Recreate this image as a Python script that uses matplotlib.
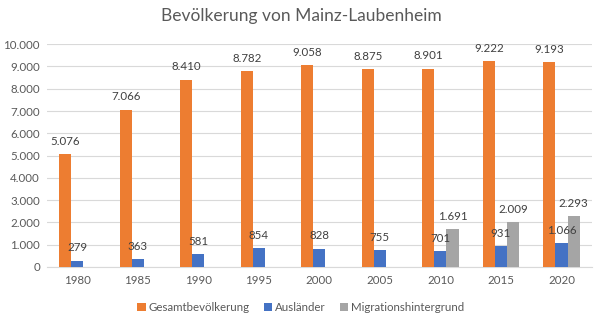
import numpy as np
import matplotlib.pyplot as plt

years = ["1980", "1985", "1990", "1995", "2000", "2005", "2010", "2015", "2020"]
gesamt = [5076, 7066, 8410, 8782, 9058, 8875, 8901, 9222, 9193]
auslaender = [279, 363, 581, 854, 828, 755, 701, 931, 1066]
migration = [np.nan, np.nan, np.nan, np.nan, np.nan, np.nan, 1691, 2009, 2293]

plt.rcParams['font.family'] = ['Lato', 'DejaVu Sans']


def fmt(v):
    return f"{int(v):,}".replace(",", ".")


fig = plt.figure(figsize=(6.02, 3.27), dpi=100)
ax = fig.add_axes([0.078, 0.1835, 0.905, 0.6815])

x = np.arange(len(years))
w = 0.2
series = [
    (gesamt, "#ED7D31", "Gesamtbevölkerung"),
    (auslaender, "#4472C4", "Ausländer"),
    (migration, "#A5A5A5", "Migrationshintergrund"),
]
for i, (vals, col, name) in enumerate(series):
    pos = x + (i - 1) * w
    ax.bar(pos, vals, width=w, color=col, label=name, zorder=3)
    for p, v in zip(pos, vals):
        if not np.isnan(v):
            ax.text(p, v + 330, fmt(v), ha="center", va="bottom",
                    fontsize=8.3, color="#404040", zorder=4)

ax.set_xlim(-0.5, len(years) - 0.5)
ax.set_ylim(0, 10000)
ax.set_yticks(np.arange(0, 10001, 1000))
ax.set_yticklabels([fmt(v) for v in np.arange(0, 10001, 1000)])
ax.set_xticks(x)
ax.set_xticklabels(years)
ax.tick_params(axis="both", length=0, labelsize=8.3, labelcolor="#595959")
ax.tick_params(axis="x", pad=6)
ax.tick_params(axis="y", pad=5)
ax.grid(axis="y", color="#D9D9D9", linewidth=0.8, zorder=0)
for s in ["top", "right", "left"]:
    ax.spines[s].set_visible(False)
ax.spines["bottom"].set_color("#D9D9D9")

fig.suptitle("Bevölkerung von Mainz-Laubenheim", y=0.975, fontsize=12.5,
             color="#595959")
fig.legend(loc="lower center", ncol=3, frameon=False, fontsize=8.3,
           bbox_to_anchor=(0.5, 0.01), handlelength=0.7, handleheight=0.7,
           handletextpad=0.3, columnspacing=1.2, labelcolor="#595959")

fig.savefig("out.png", dpi=100)
